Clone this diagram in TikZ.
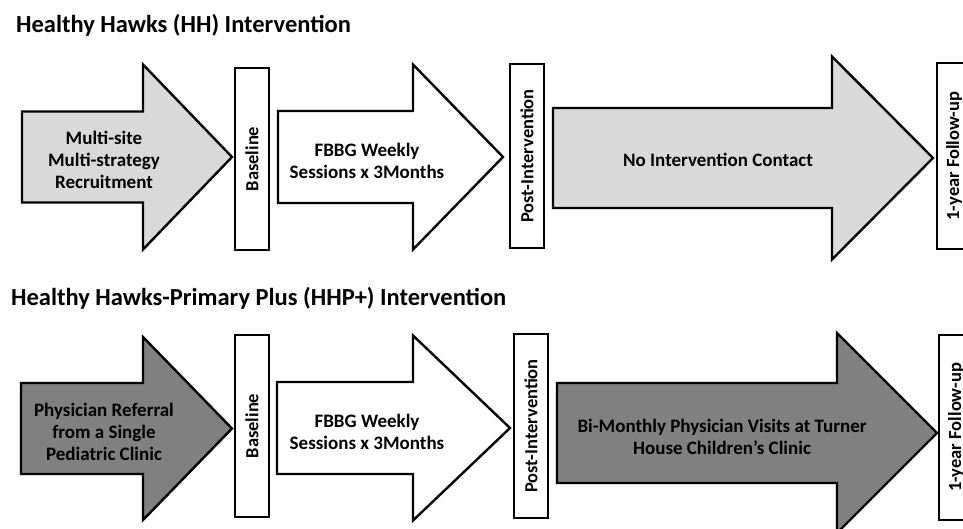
\documentclass[tikz,border=0pt]{standalone}
\usepackage{fontspec}
\setmainfont{Carlito}

\definecolor{lightfill}{HTML}{D9D9D9}
\definecolor{darkfill}{HTML}{808080}

\tikzset{phase/.style = {draw, line width=2.4pt, miter limit=20},
         phaselight/.style = {phase, fill=lightfill},
         phasedark/.style = {phase, fill=darkfill},
         phasewhite/.style = {phase, fill=white},
         armtext/.style = {align=center, font=\fontsize{19}{22}\selectfont\bfseries},
         stagebox/.style = {draw, line width=2.4pt, fill=white, rotate=90,
                            minimum height=34pt, inner sep=0pt,
                            font=\fontsize{18.5}{22}\selectfont\bfseries},
         rowtitle/.style = {anchor=base west, inner sep=0pt,
                            font=\fontsize{24.5}{28}\selectfont\bfseries}
        }

% style, left x, head x, tip x, centre y, half body, half head
\newcommand{\blockarrow}[7]{%
  \draw[#1] (#2,#5-#6) -- (#3,#5-#6) -- (#3,#5-#7) -- (#4,#5)
            -- (#3,#5+#7) -- (#3,#5+#6) -- (#2,#5+#6) -- cycle;}

\begin{document}
\begin{tikzpicture}[x=1pt, y=-1pt]
  \useasboundingbox (0,0) rectangle (963,529);

  % HH intervention
  \node[rowtitle] (hhtitle) at (16,33) {Healthy Hawks (HH) Intervention};
  \blockarrow{phaselight}{22}{143}{232}{157}{45.5}{92.5}
  \blockarrow{phasewhite}{278}{413}{503}{157}{46}{92.5}
  \blockarrow{phaselight}{553}{832}{933}{158}{50}{101.5}
  \node[armtext] (hhrecruit) at (104,160) {Multi-site\\Multi-strategy\\Recruitment};
  \node[armtext] (hhfbbg) at (367,161) {FBBG Weekly\\Sessions x 3Months};
  \node[armtext] (hhcontact) at (718,160) {No Intervention Contact};
  \node[stagebox, minimum width=182pt] (hhbase) at (252,159) {Baseline};
  \node[stagebox, minimum width=184pt] (hhpost) at (527,156) {Post-Intervention};
  \node[stagebox, minimum width=186pt] (hhfollow) at (954,156) {1-year Follow-up};

  % HHP+ intervention
  \node[rowtitle] (hhptitle) at (11,305) {Healthy Hawks-Primary Plus (HHP+) Intervention};
  \blockarrow{phasedark}{21}{143}{232}{428.5}{45.5}{91.5}
  \blockarrow{phasewhite}{277}{413}{510}{428}{46}{92.5}
  \blockarrow{phasedark}{557}{837}{937}{433}{50}{100}
  \node[armtext] (hhprefer) at (104,432) {Physician Referral\\from a Single\\Pediatric Clinic};
  \node[armtext] (hhpfbbg) at (367,432) {FBBG Weekly\\Sessions x 3Months};
  \node[armtext] (hhpvisits) at (722,437) {Bi-Monthly Physician Visits at Turner\\House Children's Clinic};
  \node[stagebox, minimum width=182pt] (hhpbase) at (252,426) {Baseline};
  \node[stagebox, minimum width=184pt] (hhppost) at (531,426) {Post-Intervention};
  \node[stagebox, minimum width=185pt] (hhpfollow) at (956,427.5) {1-year Follow-up};
\end{tikzpicture}
\end{document}
